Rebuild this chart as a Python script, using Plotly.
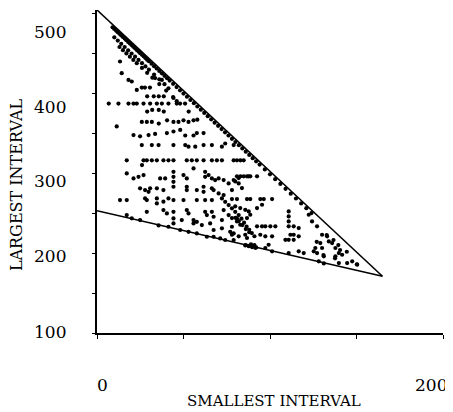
import plotly.graph_objects as go

# ---- data ----
# dense band of points just under the upper boundary
band_s = [9, 10, 11, 12, 13, 14, 15, 16, 17, 18, 19, 20, 21, 22, 23, 24, 25, 26, 27, 28, 29, 30,
          31.5, 33, 34.5, 36, 37.5, 39, 40.5, 42, 44, 46, 48, 50, 52, 54, 56, 58, 60, 62, 64, 66,
          68, 70, 72, 74, 76, 78, 80, 82, 84, 86, 88, 90, 92, 94, 97, 100, 103, 106, 109, 112,
          115, 118, 121, 124]
band_L = [482.3, 480.3, 478.3, 476.3, 474.2, 472.2, 470.2, 468.2, 466.2, 464.1, 462.1, 460.1,
          458.1, 456.1, 454, 452, 450, 448, 446, 443.9, 441.9, 439.9, 436.9, 433.8,
          430.8, 427.8, 424.8, 421.7, 418.7, 415.7, 411.6, 407.6, 403.5, 399.5, 395.5, 391.4,
          387.4, 383.3, 379.3, 375.3, 371.2, 367.2, 363.1, 359.1, 355.1, 351, 347, 342.9,
          338.9, 334.9, 330.8, 326.8, 322.7, 318.7, 314.7, 310.6, 304.6, 298.5, 292.4, 286.4,
          280.3, 274.3, 268.2, 262.1, 256.1, 250]

inner_s = [10, 12, 14, 16, 18, 20, 22, 24, 26, 28, 30, 33, 36, 39,
           13, 15, 17, 19, 21, 23, 26, 29, 32, 36, 40, 44, 48, 53, 58]
inner_L = [469.8, 465.8, 461.7, 457.7, 453.6, 449.6, 445.6, 441.5, 437.5, 433.4, 429.4, 423.3,
           417.3, 411.2,
           457.7, 453.7, 449.7, 445.6, 441.6, 437.5, 431.5, 425.4, 419.4, 411.3, 403.2, 395.1,
           387, 376.9, 366.8]

# scattered points inside the triangle
upper_s = [13.3, 14.3, 18.2, 20.1, 23, 25.9, 27.7, 30.6, 33.6, 37.5, 41.3,
           29, 32.8, 35.7, 38.6, 44.2, 46.1,
           6.8, 12.4, 18.2, 21.1, 23, 26.9, 30.7, 34.6, 37.5, 41.3, 46.1, 50.9,
           29, 31.9, 35.7, 38.6, 11.4,
           25.9, 28.8, 31.7, 35.7, 40.5, 44.2, 47.1, 50, 52.9, 55.8,
           21.1, 24.9, 29.8, 33.6, 40.4, 44.2, 48.1, 51, 55.8, 57.7, 61.6,
           25.9, 31.7, 35.6, 44.2, 51, 52.9, 56.8, 61.6, 66.4, 72.2, 74.1, 79]
upper_L = [439.6, 425, 416.6, 414.6, 404, 407, 407, 407, 418.8, 416.6, 406,
           396, 396, 396, 396, 394, 390,
           387, 387, 387, 387, 387, 387, 387, 387, 387, 387, 387, 387,
           377, 379, 379, 377, 358.4,
           364, 364, 364, 362, 366, 364, 364, 366, 364, 366,
           347.5, 346, 347.5, 349, 350, 352, 354, 347, 347, 350, 350,
           335, 335, 335, 335, 335, 333, 333, 335, 335, 333, 337, 335]

mid_s = [17.2, 26.9, 28.8, 31.7, 34.6, 38.4, 41.3, 44.2, 51.9, 54.8, 57.7, 61.6, 66.4, 69.3,
         72.2, 79, 80.9, 82.9, 84.8, 26,
         17.2, 21.1, 24, 26.9, 36.5, 39.4, 44.2, 44.2, 44.2, 50, 51.9, 55.8, 62.5, 62.5, 64.5,
         66.4, 68.3, 70.3, 73.2, 76.1, 79, 81.9,
         24.9, 27.8, 30.7, 29.8, 34.6, 38.4, 44.2, 51.9, 51.9, 57.7, 61.6, 61.6, 66.4, 67.4,
         70.3, 73.2, 78,
         13.3, 17.2, 27.8, 28.8, 34.6, 34.6, 38.4, 41.3, 44.2, 50, 57.7, 62.5, 66.4, 72.2,
         74.1, 76.1, 78, 79.9, 81.9]
mid_L = [316, 316, 316, 316, 316, 316, 316, 316, 316, 316, 316, 316, 316, 316,
         316, 316, 316, 316, 316, 310,
         299.6, 293.4, 295.4, 297.5, 293.4, 293.4, 301.6, 295.4, 289.1, 297.5, 293.4, 305.9,
         301.6, 295.4, 297.5, 293.4, 291.3, 293.4, 291.3, 287.1, 291.3, 287.1,
         280.9, 278.8, 280.9, 276.6, 280.9, 278.8, 282.9, 282.9, 278.8, 278.8, 282.9, 276.6,
         280.9, 278.8, 274.6, 272.5, 278.8,
         266.3, 266.3, 268.3, 266.3, 268.3, 262.1, 264.2, 268.3, 266.3, 266.3, 266.3, 266.3,
         266.3, 268.3, 264.1, 260, 255.9, 251.6, 247.5]

low_s = [28.8, 38.4, 40.4, 44.2, 44.2, 44.2, 51.9, 52.9, 55.8, 57.7, 62.5, 63.5, 66.4, 67.4,
         72.2, 73.2, 76.1, 78, 80.9,
         49, 55.8, 60.6, 65.4, 67.4, 72.2, 77, 79,
         17.2, 20.1, 24.9, 35.6, 41.3, 48.1, 52.9, 57.7, 63.5, 67.4, 71.2, 74.1, 79,
         80.9, 82.9, 84.8, 86.7, 87.7, 88.6, 92.5, 81.9, 79.9, 83.8,
         78, 80.9, 86.7, 88.6, 94.4, 96.4, 101.2,
         79.9, 82.8, 85.7, 87.7, 92.5, 95.4,
         78, 80.9, 82.8, 86.7, 88.6,
         92.5, 95.4, 97.3, 100.2, 103.1,
         78, 81.9, 85.7, 86.7, 94.4, 97.3, 101.2,
         80, 82, 84, 86, 88, 83.5, 85, 86.5, 88, 89.5, 91,
         86, 88, 90, 92, 89, 91]
low_L = [251.6, 253.8, 249.6, 251.6, 243.3, 237.1, 253.8, 249.6, 241.3, 239.1, 251.6, 247.5,
         251.6, 245.4, 241.3, 253.8, 247.5, 232.9, 243.3,
         241.3, 237.1, 235, 237.1, 228.8, 230.9, 226.6, 224.6,
         247.5, 243.4, 241.3, 234.5, 232.9, 228.8, 226.6, 224.6, 220.4, 220.4, 218.3, 216.3,
         216.3,
         296, 296, 296, 296, 296, 296, 296, 293.8, 289.6, 281.3,
         267.5, 267.5, 267.5, 267.5, 267.5, 267.5, 267.5,
         258.4, 256.3, 254.1, 252.1, 256.3, 260.4,
         243.8, 239.6, 235.4, 243.8, 247.9,
         233.4, 233.4, 233.4, 233.4, 233.4,
         222.9, 220.9, 222.9, 218.8, 222.9, 220.9, 220.9,
         244, 240, 235, 230, 226, 243, 238, 233, 229, 225, 221,
         210, 209, 208, 207, 211, 210]

right_s = [85.7, 87.7, 89.6, 91.5, 97.3, 99.2, 101.2, 110.8, 116.6, 119.5, 128.2, 131.1, 139.8,
           110.8, 110.8, 110.8, 110.8, 111.8, 110.8, 113.7, 113.7, 116.6, 116.6, 108.9, 113.7,
           122.4, 124.3, 127.2, 130.1, 133, 134, 135.9, 137.8, 139.8, 141.7, 130.1, 129.1,
           126.2, 127.2, 125.3, 131.1, 137.8, 144.6, 150.4, 147.5,
           127, 130.9, 137.6, 140.5, 150.2, 132.8, 136.7, 139.5, 144.4]
right_L = [209.5, 208.5, 207.5, 206.5, 206.3, 210.4, 202.1, 200, 202.1, 200, 189.6, 187, 187.5,
           252.1, 245.8, 239.6, 233.4, 222.9, 216.6, 233.4, 222.9, 231.3, 220.9, 216.6, 216.6,
           247.9, 239.6, 233.4, 222.9, 220.9, 214.6, 212.5, 206.3, 200, 197.9, 206.3, 212.5,
           206.3, 200, 202.1, 195.9, 195.9, 187.5, 185.4, 189.6,
           214, 197.5, 193.4, 203.8, 186, 222.5, 216.3, 210, 201.6]

# boundaries of the feasible region
bound_s = [0, 165]
upper_bound_L = [504, 171]
lower_bound_L = [253, 171]

y_ticks = [100, 150, 200, 250, 300, 350, 400, 450, 500]
x_ticks = [0, 50, 100, 150, 200]
y_tick_labels = ["500", "400", "300", "200", "100"]
x_tick_labels = ["0", "200"]

smallest = band_s + inner_s + upper_s + mid_s + low_s + right_s
largest = band_L + inner_L + upper_L + mid_L + low_L + right_L

FONT = "DejaVu Serif"

fig = go.Figure()
fig.add_trace(go.Scatter(x=bound_s, y=upper_bound_L, mode="lines",
                         line=dict(color="black", width=1.6), hoverinfo="skip"))
fig.add_trace(go.Scatter(x=bound_s, y=lower_bound_L, mode="lines",
                         line=dict(color="black", width=1.6), hoverinfo="skip"))
fig.add_trace(go.Scatter(x=smallest, y=largest, mode="markers",
                         marker=dict(color="black", size=4.2, line=dict(width=0))))

# the page body adds an 8px offset, so the figure is 8px smaller and shifted
fig.update_layout(
    width=445, height=404,
    margin=dict(l=89, r=10, t=2, b=79),
    paper_bgcolor="white", plot_bgcolor="white",
    showlegend=False,
    font=dict(family=FONT, color="black"),
)
fig.update_xaxes(range=[0, 200], tickvals=x_ticks, showticklabels=False,
                 ticks="outside", ticklen=4, tickwidth=1.2, tickcolor="black",
                 showline=True, linecolor="black", linewidth=1.6,
                 showgrid=False, zeroline=False)
fig.update_yaxes(range=[100, 504], tickvals=y_ticks, showticklabels=False,
                 ticks="outside", ticklen=3, tickwidth=1.2, tickcolor="black",
                 showline=True, linecolor="black", linewidth=1.6,
                 showgrid=False, zeroline=False)

# tick labels placed where the original figure prints them
y_label_pos = [0.932, 0.700, 0.471, 0.238, 0.003]
for txt, yp in zip(y_tick_labels, y_label_pos):
    fig.add_annotation(text=txt, xref="paper", yref="paper", x=-0.084, y=yp,
                       xanchor="right", yanchor="middle", showarrow=False,
                       font=dict(family=FONT, size=17, color="black"))
for txt, xp in zip(x_tick_labels, [0.016, 0.965]):
    fig.add_annotation(text=txt, xref="paper", yref="paper", x=xp, y=-0.161,
                       xanchor="center", yanchor="middle", showarrow=False,
                       font=dict(family=FONT, size=17, color="black"))

fig.add_annotation(text="SMALLEST INTERVAL", xref="paper", yref="paper", x=0.512, y=-0.212,
                   xanchor="center", yanchor="middle", showarrow=False,
                   font=dict(family=FONT, size=15, color="black"))
fig.add_annotation(text="LARGEST INTERVAL", xref="paper", yref="paper", x=-0.234, y=0.458,
                   xanchor="center", yanchor="middle", showarrow=False, textangle=-90,
                   font=dict(family=FONT, size=16, color="black"))

fig.write_html("out.html")
